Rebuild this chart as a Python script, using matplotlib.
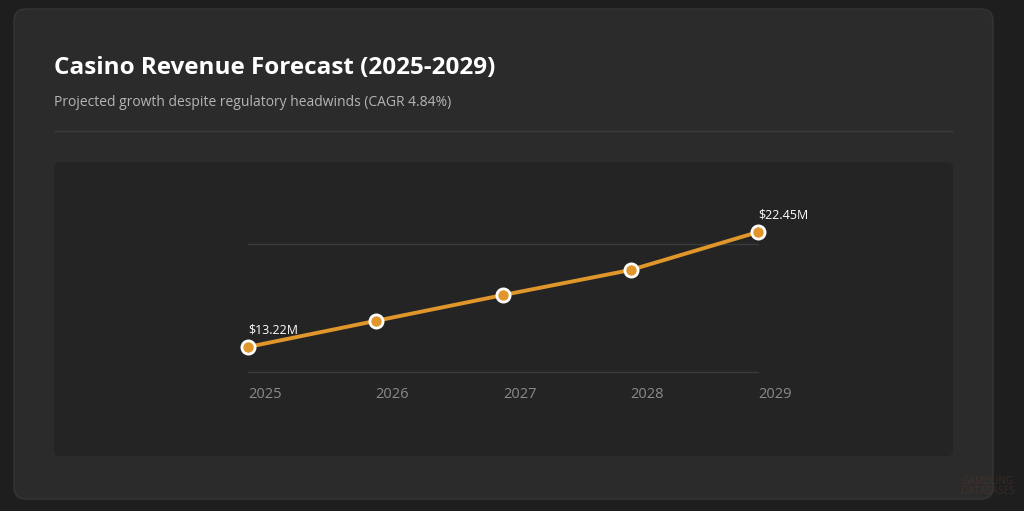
import matplotlib
matplotlib.use("Agg")
import matplotlib.pyplot as plt
from matplotlib.patches import FancyBboxPatch

plt.rcParams['font.family'] = ['Open Sans', 'DejaVu Sans']

years = [2025, 2026, 2027, 2028, 2029]
revenue = [13.22, 15.31, 17.39, 19.40, 22.45]
grid_vals = [11.21, 21.49]
title = "Casino Revenue Forecast (2025-2029)"
subtitle = "Projected growth despite regulatory headwinds (CAGR 4.84%)"

W, H = 1024, 511
fig = plt.figure(figsize=(W / 100, H / 100), dpi=100)
fig.patch.set_facecolor("#1e1e1e")

# background layer in pixel coordinates
bg = fig.add_axes([0, 0, 1, 1], zorder=0)
bg.set_xlim(0, W)
bg.set_ylim(H, 0)
bg.axis("off")

card = FancyBboxPatch((14, 9), 979, 490, boxstyle="round,pad=0,rounding_size=12",
                      facecolor="#2b2b2b", edgecolor="#353535", linewidth=1)
bg.add_patch(card)
bg.plot([54, 953], [131, 131], color="#3a3a3a", linewidth=1)
panel = FancyBboxPatch((54, 162), 899, 294, boxstyle="round,pad=0,rounding_size=6",
                       facecolor="#242424", edgecolor="none")
bg.add_patch(panel)

bg.text(54, 68, title, color="white", fontsize=17.5, fontweight="bold", va="center", ha="left")
bg.text(54, 102, subtitle, color="#b5b5b5", fontsize=10, va="center", ha="left")
bg.text(988, 497, "GAMBLING\nDATABASES", color="#5a3a2a", alpha=0.45, fontsize=7,
        ha="center", va="bottom", linespacing=0.9)

# chart area
ax = fig.add_axes([248 / W, (H - 372) / H, (758 - 248) / W, (372 - 244) / H], zorder=1)
ax.patch.set_alpha(0)
ax.set_xlim(years[0], years[-1])
ax.set_ylim(grid_vals[0], grid_vals[1])
for s in ax.spines.values():
    s.set_visible(False)
ax.set_yticks([])
for g in grid_vals:
    ax.axhline(g, color="#3a3a3a", linewidth=1, clip_on=False, zorder=1)
ax.set_xticks(years)
ax.set_xticklabels([str(y) for y in years], color="#8a8a8a", fontsize=10.5, ha="left")
ax.tick_params(axis="x", length=0, pad=11)

ax.plot(years, revenue, color="#e0962a", linewidth=2.8, marker="o", markersize=9.5,
        markerfacecolor="#e0962a", markeredgecolor="white", markeredgewidth=2,
        clip_on=False, zorder=3)

for i in [0, len(years) - 1]:
    ax.annotate(f"${revenue[i]:.2f}M", (years[i], revenue[i]), xytext=(0, 7.5),
                textcoords="offset points", color="white", fontsize=9, ha="left", va="bottom",
                annotation_clip=False)

fig.savefig("out.png", dpi=100, facecolor=fig.get_facecolor())
